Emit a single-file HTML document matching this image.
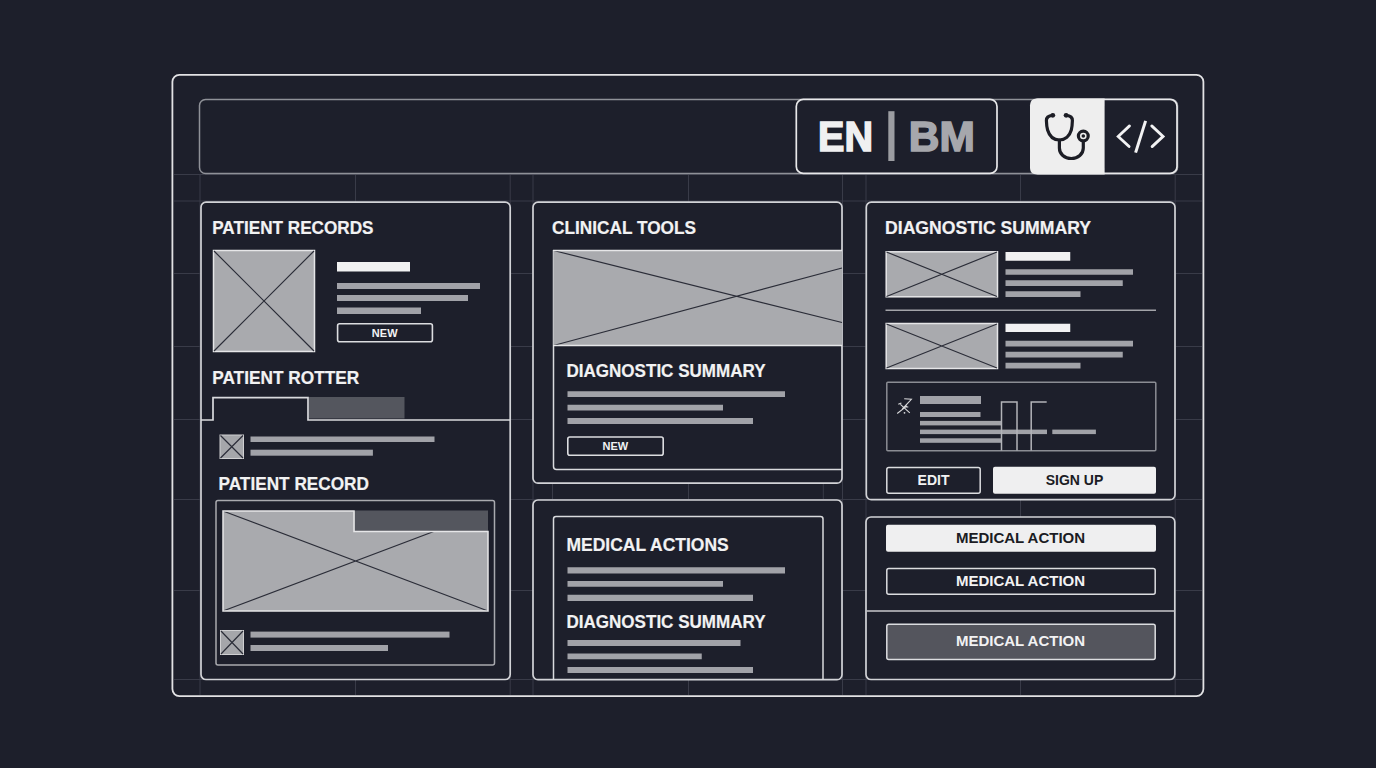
<!DOCTYPE html>
<html>
<head>
<meta charset="utf-8">
<style>
html,body{margin:0;padding:0;background:#1d1f2b;width:1376px;height:768px;overflow:hidden}
svg{display:block}
text{font-family:"Liberation Sans",sans-serif;font-weight:bold}
.t{font-size:18px;fill:#f2f2f3;stroke:#f2f2f3;stroke-width:0.2px}
.pn{fill:#1d1f2b;stroke:#d2d3d7;stroke-width:1.7}
.ph{fill:#a9aaae;stroke:#e6e6e8;stroke-width:1.5}
.xl{stroke:#2b2d38;stroke-width:1.2}
.br{fill:#a1a2a8}
.wb{fill:#f1f1f2}
.gl{stroke:#393b48;stroke-width:1}
</style>
</head>
<body>
<svg width="1376" height="768" viewBox="0 0 1376 768">
<!-- outer frame -->
<rect x="172.4" y="74.8" width="1031" height="621.3" rx="7" fill="#1d1f2b" stroke="#e2e2e4" stroke-width="1.8"/>
<!-- grid -->
<g class="gl">
<path d="M174 174.5H1202M174 201H1202M174 273.5H1202M174 346.5H1202M174 419.5H1202M174 499.5H1202M174 590.5H1202M174 679.5H1202"/>
<path d="M200 174V695M355.5 174V695M510.2 174V695M533 174V695M552.5 483V500M688.5 174V695M823.3 483V500M842.5 174V695M866 174V695M1020.5 174V695M1175.2 174V695"/>
</g>
<!-- header bar -->
<rect x="199.5" y="99.5" width="978" height="74" rx="6" fill="#1d1f2b" stroke="#8f9198" stroke-width="1.5"/>
<rect x="796.3" y="99.4" width="200.7" height="74" rx="7" fill="#1d1f2b" stroke="#e8e8ea" stroke-width="1.7"/>
<text x="818" y="151" style="font-size:42px;fill:#f0f0f1;stroke:#f0f0f1;stroke-width:1.6" textLength="55" lengthAdjust="spacingAndGlyphs">EN</text>
<rect x="888.3" y="111.2" width="6.2" height="49.8" fill="#9c9da2"/>
<text x="908.8" y="151" style="font-size:42px;fill:#a6a7ac;stroke:#a6a7ac;stroke-width:1.6" textLength="66" lengthAdjust="spacingAndGlyphs">BM</text>
<rect x="1031" y="99.4" width="146" height="74" rx="7" fill="#1d1f2b" stroke="#e8e8ea" stroke-width="1.7"/>
<path d="M1037 98.5H1104.6V174.5H1037Q1030 174.5 1030 167.5V105.5Q1030 98.5 1037 98.5Z" fill="#eeeeee"/>
<!-- stethoscope -->
<g fill="none" stroke="#1c1d25" stroke-width="3.2" stroke-linecap="round">
<path d="M1052.8 115.3C1048.8 115.6 1046.3 117 1046.4 120.5C1046.5 124 1046.7 127 1047.6 130C1049.4 136 1053.8 140 1059.4 140C1065 140 1069.6 136 1071.3 130C1072.1 127 1072.3 124 1072.4 120.5C1072.5 117 1070 115.6 1066.1 115.3"/>
<path d="M1059.4 140V148C1059.4 154 1064.5 158.5 1071.3 158.5C1078 158.5 1083.3 154 1083.3 148V141.5"/>
<circle cx="1083.3" cy="136" r="4.9"/>
</g>
<g fill="#1c1d25">
<circle cx="1083.3" cy="136" r="1.8"/>
<circle cx="1052.8" cy="115.3" r="2.4"/>
<circle cx="1066.1" cy="115.3" r="2.4"/>
</g>
<!-- code icon -->
<g fill="none" stroke="#f2f2f3" stroke-width="2.8" stroke-linecap="round" stroke-linejoin="miter">
<path d="M1129.5 125.9L1118.2 136.4L1129.1 146.6"/>
<path d="M1151.75 125.9L1163.1 136.4L1152.1 146.6"/>
<path d="M1145.6 120.9L1135.6 152.6" stroke-linecap="butt" stroke-width="3"/>
</g>

<!-- ===== Panel 1 ===== -->
<rect class="pn" x="201" y="202.2" width="309.2" height="477.3" rx="5"/>
<text class="t" x="212.2" y="234" textLength="161.3" lengthAdjust="spacingAndGlyphs">PATIENT RECORDS</text>
<rect class="ph" x="213.5" y="250.5" width="101" height="101"/>
<path class="xl" d="M214 251L314 351M314 251L214 351"/>
<rect class="wb" x="337" y="262" width="73" height="9.5"/>
<rect class="br" x="337" y="283" width="143" height="6"/>
<rect class="br" x="337" y="295" width="131" height="6"/>
<rect class="br" x="337" y="307.5" width="84" height="6.5"/>
<rect x="337.6" y="323.8" width="94.8" height="18" rx="2" fill="none" stroke="#dcdde0" stroke-width="1.6"/>
<text x="384.7" y="337" text-anchor="middle" style="font-size:11px;fill:#f2f2f3">NEW</text>

<text class="t" x="212.2" y="383.7" textLength="147" lengthAdjust="spacingAndGlyphs">PATIENT ROTTER</text>
<rect x="309" y="397" width="95.5" height="21.5" fill="#54565e"/>
<path d="M201 420H213V397.7H308V420H510" fill="none" stroke="#d9dadd" stroke-width="1.7"/>
<rect x="220" y="435" width="23.5" height="23.5" fill="#a5a6aa" stroke="#d0d0d2" stroke-width="1"/>
<path class="xl" d="M220.5 435.5L243 458M243 435.5L220.5 458"/>
<rect class="br" x="250.5" y="436.5" width="184" height="5.5"/>
<rect class="br" x="250.5" y="449.7" width="122.4" height="6"/>

<text class="t" x="218.5" y="490" textLength="150.5" lengthAdjust="spacingAndGlyphs">PATIENT RECORD</text>
<rect x="216" y="500.5" width="278.5" height="164.5" rx="2" fill="none" stroke="#a9aaaf" stroke-width="1.5"/>
<rect x="223" y="511" width="265" height="100" fill="#a9aaae"/>
<path class="xl" d="M223 511L488 611M223 611L488 511"/>
<rect x="354.5" y="510.5" width="133.5" height="21" fill="#54565e"/>
<path d="M223 511H354V531.5H488V611H223Z" fill="none" stroke="#e6e6e8" stroke-width="1.5"/>
<rect x="220.5" y="630.5" width="23" height="24" fill="#a5a6aa" stroke="#d0d0d2" stroke-width="1"/>
<path class="xl" d="M221 631L243 654M243 631L221 654"/>
<rect class="br" x="250.5" y="631.6" width="199" height="6"/>
<rect class="br" x="250.5" y="645" width="137.5" height="6"/>

<!-- ===== Panel 2 ===== -->
<rect class="pn" x="533" y="202.2" width="309" height="281" rx="5"/>
<text class="t" x="552" y="234.25" textLength="144" lengthAdjust="spacingAndGlyphs">CLINICAL TOOLS</text>
<path d="M553.5 250V466.5Q553.5 469.5 556.5 469.5H842" fill="none" stroke="#d9dadd" stroke-width="1.5"/>
<rect x="553.5" y="250.5" width="288.5" height="95" fill="#a9aaae"/>
<path class="xl" d="M553.5 250.5L842 322.5M553.5 345.5L842 268"/>
<path d="M553 250.5H842M553 345.5H842" stroke="#e6e6e8" stroke-width="1.5"/>
<text class="t" x="566.5" y="376.5" textLength="199" lengthAdjust="spacingAndGlyphs">DIAGNOSTIC SUMMARY</text>
<rect class="br" x="567.5" y="391.25" width="217.5" height="5.75"/>
<rect class="br" x="567.5" y="404.75" width="155.5" height="5.75"/>
<rect class="br" x="567.5" y="418" width="185.5" height="6"/>
<rect x="567.8" y="437" width="95.4" height="18.2" rx="2" fill="none" stroke="#dcdde0" stroke-width="1.6"/>
<text x="615.4" y="450" text-anchor="middle" style="font-size:11px;fill:#f2f2f3">NEW</text>

<!-- ===== Panel 3 ===== -->
<rect class="pn" x="533" y="500" width="309" height="179.7" rx="5"/>
<path d="M553.5 680V519Q553.5 516.5 556 516.5H820.5Q823 516.5 823 519V680" fill="none" stroke="#d9dadd" stroke-width="1.5"/>
<text class="t" x="566.5" y="550.5" textLength="162.2" lengthAdjust="spacingAndGlyphs">MEDICAL ACTIONS</text>
<rect class="br" x="567.5" y="567.25" width="217.5" height="6.25"/>
<rect class="br" x="567.5" y="581" width="155.5" height="5.75"/>
<rect class="br" x="567.5" y="594.75" width="185.5" height="6.25"/>
<text class="t" x="566.5" y="627.5" textLength="199" lengthAdjust="spacingAndGlyphs">DIAGNOSTIC SUMMARY</text>
<rect class="br" x="567.5" y="640" width="173" height="6"/>
<rect class="br" x="567.5" y="653.5" width="134.25" height="5.75"/>
<rect class="br" x="567.5" y="667" width="185.5" height="6"/>

<!-- ===== Panel 4 ===== -->
<rect class="pn" x="866.3" y="202.2" width="308.7" height="297.5" rx="5"/>
<text class="t" x="885" y="234" textLength="206" lengthAdjust="spacingAndGlyphs">DIAGNOSTIC SUMMARY</text>
<rect class="ph" x="886.2" y="251.8" width="111.3" height="45"/>
<path class="xl" d="M886.5 252L997 296.5M997 252L886.5 296.5"/>
<rect class="wb" x="1005.5" y="252" width="64.75" height="8.75"/>
<rect class="br" x="1005.5" y="269.25" width="127.5" height="5.5"/>
<rect class="br" x="1005.5" y="280.25" width="117.25" height="5.75"/>
<rect class="br" x="1005.5" y="291.25" width="75" height="5.75"/>
<path d="M885.5 310.25H1156" stroke="#a3a4a9" stroke-width="1.5"/>
<rect class="ph" x="886.2" y="323.5" width="111.3" height="45"/>
<path class="xl" d="M886.5 324L997 368M997 324L886.5 368"/>
<rect class="wb" x="1005.5" y="323.75" width="64.75" height="8.25"/>
<rect class="br" x="1005.5" y="340.75" width="127.5" height="5.75"/>
<rect class="br" x="1005.5" y="351.75" width="117.25" height="5.75"/>
<rect class="br" x="1005.5" y="362.75" width="75" height="5.75"/>
<rect x="886.8" y="382.3" width="269" height="68.5" rx="1" fill="none" stroke="#8b8d94" stroke-width="1.5"/>
<g fill="none" stroke="#d8d8da" stroke-width="1.1">
<path d="M904.2 398.7L911.4 399.3L902.3 409M897.2 413.5L907 405.9M898.3 404.3L901.4 403M900.4 404.3L909.8 412.8M905.3 407H908.3"/><circle cx="904.5" cy="412.8" r="0.9" fill="#d8d8da" stroke="none"/>
</g>
<rect class="br" x="920" y="396" width="61" height="8"/>
<rect class="br" x="920" y="412" width="60.5" height="5"/>
<rect class="br" x="920" y="420.9" width="81" height="4.5"/>
<rect class="br" x="920" y="429.6" width="127" height="4.5"/>
<rect class="br" x="920" y="438.3" width="81" height="4.5"/>
<rect class="br" x="1052.3" y="429.6" width="43.6" height="4.5"/>
<path d="M1001.5 450.5V402H1017V450.5M1031.2 450.5V402H1046.7" fill="none" stroke="#b3b4b9" stroke-width="1.5"/>
<rect x="886.8" y="467.4" width="93.4" height="25.8" rx="2" fill="none" stroke="#dcdde0" stroke-width="1.5"/>
<text x="933.5" y="485.3" text-anchor="middle" style="font-size:14px;fill:#f2f2f3">EDIT</text>
<rect x="993" y="466.8" width="163" height="27" rx="2" fill="#efeff0"/>
<text x="1074.5" y="485.3" text-anchor="middle" style="font-size:14px;fill:#1b1c24">SIGN UP</text>

<!-- ===== Panel 5 ===== -->
<rect class="pn" x="866" y="517" width="308.8" height="162.5" rx="5"/>
<rect x="886" y="524.75" width="270" height="27" rx="2" fill="#efeff0"/>
<text x="1020.5" y="542.8" text-anchor="middle" style="font-size:15px;fill:#1b1c24">MEDICAL ACTION</text>
<rect x="886.8" y="568.4" width="268.4" height="25.8" rx="2" fill="none" stroke="#dcdde0" stroke-width="1.5"/>
<text x="1020.5" y="586.2" text-anchor="middle" style="font-size:15px;fill:#f2f2f3">MEDICAL ACTION</text>
<path d="M866.5 611H1175" stroke="#c8c9cd" stroke-width="1.5"/>
<rect x="886.8" y="624.3" width="268.4" height="35.3" rx="2" fill="#54555d" stroke="#dcdde0" stroke-width="1.5"/>
<text x="1020.5" y="646.1" text-anchor="middle" style="font-size:15px;fill:#f2f2f3">MEDICAL ACTION</text>
</svg>
</body>
</html>
